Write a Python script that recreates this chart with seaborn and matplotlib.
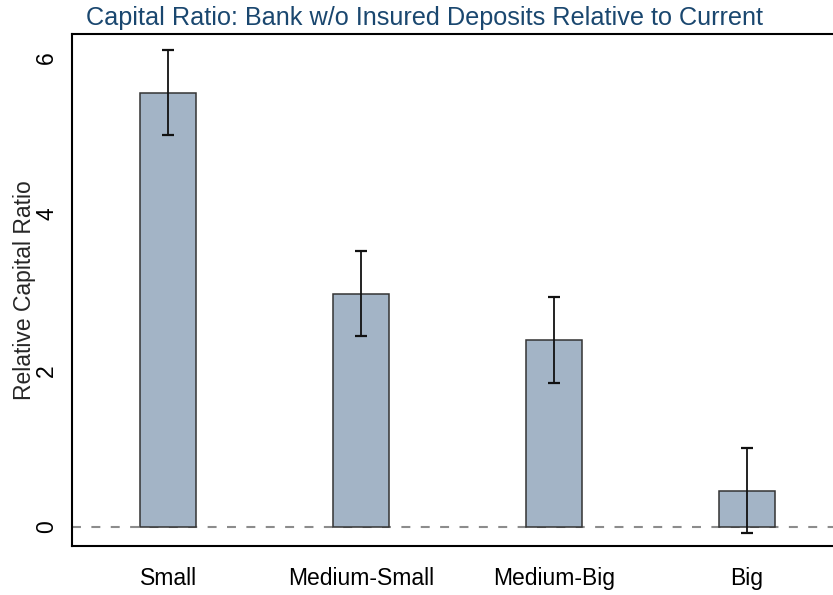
import matplotlib
matplotlib.use("Agg")
import matplotlib.pyplot as plt
import seaborn as sns
import pandas as pd
import numpy as np

categories = ["Small", "Medium-Small", "Medium-Big", "Big"]
values = [5.55, 2.98, 2.39, 0.46]
ci_low = [5.01, 2.44, 1.84, -0.08]
ci_high = [6.10, 3.53, 2.94, 1.01]
yticks = [0, 2, 4, 6]

sns.set_style("white")
plt.rcParams['font.family'] = ['Liberation Sans', 'DejaVu Sans']

df = pd.DataFrame({"group": categories, "value": values})

fig = plt.figure(figsize=(8.33, 5.95), dpi=100)
ax_left, ax_w = 72/833, (843.5-72)/833
ax = fig.add_axes([ax_left, 49/595, ax_w, (546-34)/595])

sns.barplot(data=df, x="group", y="value", order=categories, color="#A3B4C6",
            edgecolor="#333333", linewidth=1.1, width=0.29, saturation=1,
            errorbar=None, ax=ax)

x = np.arange(len(categories))
v = np.array(values)
ax.errorbar(x, v, yerr=[v - np.array(ci_low), np.array(ci_high) - v],
            fmt="none", ecolor="#111111", elinewidth=1.3, capsize=4.3, capthick=1.6, zorder=5)

ax.axhline(0, color="#8c8c8c", linestyle=(0, (4.3, 5)), linewidth=1.5, zorder=0.5)

ax.set_xlim(-0.5, 3.5)
ax.set_ylim(-0.245, 6.3)
ax.set_yticks(yticks)
ax.set_yticklabels([str(t) for t in yticks], rotation=90, va="center", fontsize=16.5)
ax.tick_params(axis="x", labelsize=16.5, length=5, width=1, direction="out", pad=10, colors="black")
ax.tick_params(axis="y", length=7.5, width=1, direction="out", pad=2.5, colors="black")
ax.set_xlabel("")
ax.set_ylabel("Relative Capital Ratio", fontsize=16.5)
ax.yaxis.set_label_coords((36 - 72) / (ax_w * 833), 0.5)
for s in ax.spines.values():
    s.set_color("black")
    s.set_linewidth(1.5)

fig.text(425/833, 1 - 18/595, "Capital Ratio: Bank w/o Insured Deposits Relative to Current",
         ha="center", va="center", fontsize=18.2, color="#1a476f")

fig.savefig("out.png", dpi=100)
